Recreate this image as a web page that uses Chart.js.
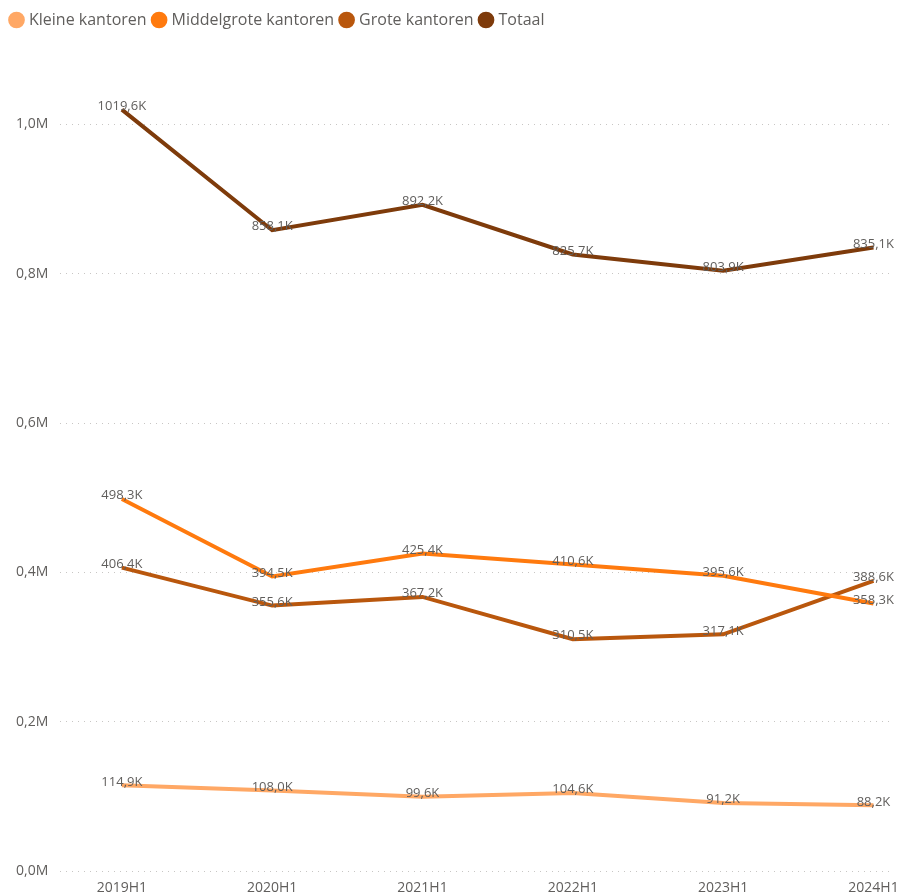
<!DOCTYPE html>
<html>
<head>
<meta charset="utf-8">
<script src="https://cdn.jsdelivr.net/npm/chart.js@4"></script>
<style>
  html, body { margin: 0; padding: 0; background: #fff; overflow: hidden; }
  #wrap { width: 903px; height: 901px; }
</style>
</head>
<body>
<div id="wrap"><canvas id="kantorenChart" width="903" height="901"></canvas></div>
<script>
// === Data ===
const periods = ['2019H1', '2020H1', '2021H1', '2022H1', '2023H1', '2024H1'];
const kleine = [114900, 108000, 99600, 104600, 91200, 88200];
const middelgrote = [498300, 394500, 425400, 410600, 395600, 358300];
const grote = [406400, 355600, 367200, 310500, 317100, 388600];
const totaal = [1019600, 858100, 892200, 825700, 803900, 835100];
const yTicks = [0, 200000, 400000, 600000, 800000, 1000000];

const fmtK = v => (v / 1000).toFixed(1).replace('.', ',') + 'K';
const fmtM = v => (v / 1000000).toFixed(1).replace('.', ',') + 'M';
const toPoints = arr => arr.map((v, i) => ({ x: i, y: v }));

// labels drawn just above each point
const dataLabels = {
  id: 'dataLabels',
  afterDatasetsDraw(chart) {
    const ctx = chart.ctx;
    ctx.save();
    ctx.font = '13px "Open Sans", sans-serif';
    ctx.fillStyle = '#605E5C';
    ctx.textAlign = 'center';
    ctx.textBaseline = 'bottom';
    chart.data.datasets.forEach((ds, di) => {
      chart.getDatasetMeta(di).data.forEach((pt, i) => {
        ctx.fillText(fmtK(ds.data[i].y), pt.x, pt.y + 3);
      });
    });
    ctx.restore();
  }
};

// extra room under the legend
const legendGap = {
  id: 'legendGap',
  beforeInit(chart) {
    const fit = chart.legend.fit;
    chart.legend.fit = function () {
      fit.bind(chart.legend)();
      this.height += 19;
    };
  }
};

const series = [
  { label: 'Kleine kantoren', data: kleine, color: '#FFA865' },
  { label: 'Middelgrote kantoren', data: middelgrote, color: '#FF7A0E' },
  { label: 'Grote kantoren', data: grote, color: '#B9570D' },
  { label: 'Totaal', data: totaal, color: '#7E3B0B' }
];

const ctx = document.getElementById('kantorenChart').getContext('2d');
new Chart(ctx, {
  type: 'line',
  data: {
    datasets: series.map(s => ({
      label: s.label,
      data: toPoints(s.data),
      borderColor: s.color,
      backgroundColor: s.color,
      borderWidth: 4,
      pointRadius: 0,
      pointHoverRadius: 0,
      tension: 0,
      fill: false
    }))
  },
  options: {
    responsive: false,
    animation: false,
    layout: { padding: { left: 4, right: 10, top: 4, bottom: 5 } },
    plugins: {
      legend: {
        position: 'top',
        align: 'start',
        labels: {
          usePointStyle: true,
          pointStyle: 'circle',
          boxWidth: 9,
          boxHeight: 9,
          padding: 8,
          color: '#605E5C',
          font: { family: '"Open Sans", sans-serif', size: 16 }
        }
      },
      tooltip: { enabled: false }
    },
    scales: {
      x: {
        type: 'linear',
        min: -0.41,
        max: 5.13,
        afterBuildTicks: scale => { scale.ticks = periods.map((p, i) => ({ value: i })); },
        ticks: {
          callback: v => periods[v],
          color: '#605E5C',
          font: { family: '"Open Sans", sans-serif', size: 14 },
          maxRotation: 0,
          padding: 0
        },
        grid: { display: false },
        border: { display: false }
      },
      y: {
        min: 0,
        max: 1090000,
        afterBuildTicks: scale => { scale.ticks = yTicks.map(v => ({ value: v })); },
        ticks: {
          callback: v => fmtM(v),
          color: '#605E5C',
          font: { family: '"Open Sans", sans-serif', size: 14 },
          padding: 12
        },
        grid: { color: '#C8C6C4', lineWidth: 1, drawTicks: false },
        border: { display: false, dash: [1, 5] }
      }
    }
  },
  plugins: [dataLabels, legendGap]
});
</script>
</body>
</html>
